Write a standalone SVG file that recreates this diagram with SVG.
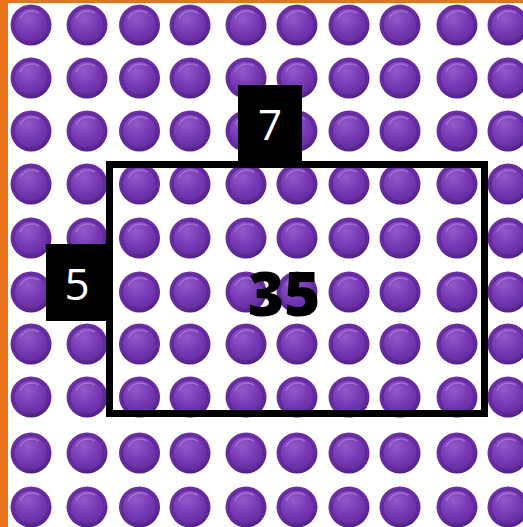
<svg xmlns="http://www.w3.org/2000/svg" xmlns:xlink="http://www.w3.org/1999/xlink" width="523" height="527" viewBox="0 0 523 527">
  <defs>
    <radialGradient id="outer" cx="0.45" cy="0.4" r="0.6">
      <stop offset="0" stop-color="#7a3ab2"/>
      <stop offset="0.85" stop-color="#66299f"/>
      <stop offset="1" stop-color="#4e1f82"/>
    </radialGradient>
    <radialGradient id="inner" cx="0.4" cy="0.3" r="0.75">
      <stop offset="0" stop-color="#925ac9"/>
      <stop offset="0.6" stop-color="#7638b4"/>
      <stop offset="1" stop-color="#612e9c"/>
    </radialGradient>
    <g id="dot">
      <circle r="20.5" fill="url(#outer)"/>
      <circle r="17" fill="url(#inner)" stroke="#5a2590" stroke-width="1"/>
      <path d="M -11 -6 A 13 13 0 0 1 8 -12" fill="none" stroke="#b58ae0" stroke-width="1.5" opacity="0.6"/>
    </g>
  </defs>
  <style>
    .lbl { fill: #ffffff; font-family: "Open Sans", "Liberation Sans", sans-serif; text-anchor: middle; }
    .box { fill: #000000; }
  </style>
  <rect x="0" y="0" width="523" height="527" fill="#ffffff"/>
  <rect x="0" y="0" width="523" height="3" fill="#e8731a"/>
  <rect x="0" y="0" width="8" height="527" fill="#e8731a"/>
  <g id="dots">
    <g id="r1" transform="translate(0,25)">
      <use xlink:href="#dot" x="31"/><use xlink:href="#dot" x="87"/><use xlink:href="#dot" x="139.5"/><use xlink:href="#dot" x="190"/><use xlink:href="#dot" x="246"/><use xlink:href="#dot" x="297"/><use xlink:href="#dot" x="349"/><use xlink:href="#dot" x="400"/><use xlink:href="#dot" x="457"/><use xlink:href="#dot" x="508"/>
    </g>
    <use xlink:href="#r1" y="53"/>
    <use xlink:href="#r1" y="106"/>
    <use xlink:href="#r1" y="159"/>
    <use xlink:href="#r1" y="213"/>
    <use xlink:href="#r1" y="267"/>
    <use xlink:href="#r1" y="319"/>
    <use xlink:href="#r1" y="372"/>
    <use xlink:href="#r1" y="428"/>
    <use xlink:href="#r1" y="482"/>
  </g>
  <rect x="109.5" y="164.5" width="375" height="249" fill="none" stroke="#000000" stroke-width="7"/>
  <g id="top-label">
    <rect class="box" x="238" y="85" width="64" height="80"/>
    <text class="lbl" x="270" y="140" font-size="42">7</text>
  </g>
  <g id="side-label">
    <rect class="box" x="46" y="244" width="62" height="77"/>
    <text class="lbl" x="77" y="300" font-size="44">5</text>
  </g>
  <text x="284" y="316" font-family="'Open Sans', 'Liberation Sans', sans-serif" font-weight="800" font-size="62" text-anchor="middle" fill="#000000">35</text>
</svg>
